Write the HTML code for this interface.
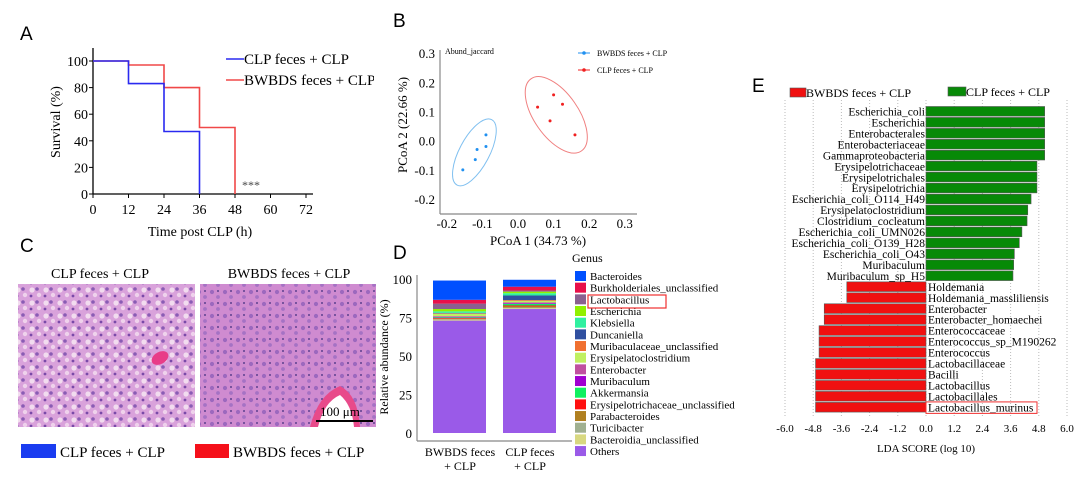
<!DOCTYPE html>
<html><head><meta charset="utf-8">
<style>
html,body{margin:0;padding:0;background:#fff;}
svg{display:block;font-family:"Liberation Serif",serif;}
.pl{font-family:"Liberation Sans",sans-serif;font-size:19px;fill:#000;}
</style></head>
<body>
<svg id="fig" width="1080" height="478" viewBox="0 0 1080 478" xmlns="http://www.w3.org/2000/svg">
<defs>
<pattern id="cellsA" width="14" height="13" patternUnits="userSpaceOnUse">
<rect width="14" height="13" fill="#d9a2db"/>
<circle cx="4" cy="4" r="2.6" fill="#f2dcef"/>
<circle cx="11" cy="9" r="2.2" fill="#efd2ec"/>
<circle cx="9" cy="3" r="1.8" fill="#8a5cb4"/>
<circle cx="3" cy="10" r="1.4" fill="#7a4aa8"/>
</pattern>
<pattern id="cellsB" width="13" height="12" patternUnits="userSpaceOnUse">
<rect width="13" height="12" fill="#cf8bd0"/>
<circle cx="4" cy="4" r="2.1" fill="#9c68be"/>
<circle cx="10" cy="9" r="1.9" fill="#a572c4"/>
<circle cx="10" cy="3" r="0.9" fill="#3b2a7a"/>
</pattern>
</defs>

<!-- Panel letters -->
<text class="pl" x="20" y="40">A</text>
<text class="pl" x="393" y="27">B</text>
<text class="pl" x="20" y="252">C</text>
<text class="pl" x="393" y="259">D</text>
<text class="pl" x="752" y="92">E</text>

<g id="pA"></g>
<g id="pB"></g>

<!-- Panel C -->
<g>
<text x="100" y="278" font-size="14" text-anchor="middle">CLP feces + CLP</text>
<text x="289" y="278" font-size="14" text-anchor="middle">BWBDS feces + CLP</text>
<rect x="18" y="284" width="177" height="143" fill="url(#cellsA)"/>
<ellipse cx="160" cy="358" rx="9" ry="6" fill="#e83c88" transform="rotate(-30 160 358)"/>
<rect x="200" y="284" width="176" height="143" fill="url(#cellsB)"/>
<path d="M310 427 Q318 395 340 386 Q358 395 360 427 Z" fill="#e84a8a"/>
<path d="M318 427 Q324 402 340 395 Q352 405 354 427 Z" fill="#fff"/>
<text x="320" y="416" font-size="13">100 μm</text>
<line x1="316" y1="421" x2="373" y2="421" stroke="#000" stroke-width="2"/>
<rect x="21" y="444" width="35" height="14" fill="#1a3cf0"/>
<text x="60" y="457" font-size="15">CLP feces + CLP</text>
<rect x="195" y="444" width="34" height="14" fill="#f5101a"/>
<text x="233" y="457" font-size="15">BWBDS feces + CLP</text>
</g>

<g id="pD"></g>
<g id="pE"></g>
</svg>

<script>
// ---- Panel A data ----
const survTicksX = [0,12,24,36,48,60,72];
const survTicksY = [0,20,40,60,80,100];
const clpTimes = [0,12,24,36];
const clpSurv = [100,83,47,0];
const bwTimes = [0,12,24,36,48];
const bwSurv = [100,97,80,50,0];

// ---- Panel B data ----
const pcoaTicks = [-0.2,-0.1,0.0,0.1,0.2,0.3];
const bwPc1 = [-0.155,-0.12,-0.115,-0.09,-0.09];
const bwPc2 = [-0.10,-0.065,-0.03,-0.02,0.02];
const clpPc1 = [0.055,0.09,0.10,0.125,0.16];
const clpPc2 = [0.115,0.068,0.157,0.125,0.02];

// ---- Panel D data ----
const genera = ["Bacteroides","Burkholderiales_unclassified","Lactobacillus","Escherichia","Klebsiella","Duncaniella","Muribaculaceae_unclassified","Erysipelatoclostridium","Enterobacter","Muribaculum","Akkermansia","Erysipelotrichaceae_unclassified","Parabacteroides","Turicibacter","Bacteroidia_unclassified","Others"];
const genusColors = ["#0050ff","#e8104a","#8a6090","#90f000","#30f0a0","#3050a0","#f07030","#c0f060","#c050a0","#a000d0","#10f060","#ff1010","#b08020","#a0b090","#d8d880","#9a5ae8"];
const bwbdsAbund = [12.5,2.5,3.5,1.5,1,0.3,0.3,1.5,0.5,0.3,0.5,0.5,0.3,0.3,0.5,73];
const clpAbund = [4.5,2.5,0.7,1,1.5,3,0.5,1,0.5,0.5,1,0.6,0.7,0.5,0.5,80.5];
const abundTicks = [0,25,50,75,100];
const groups = ["BWBDS feces|+ CLP","CLP feces|+ CLP"];

// ---- Panel E data ----
const ldaTaxa = ["Escherichia_coli","Escherichia","Enterobacterales","Enterobacteriaceae","Gammaproteobacteria","Erysipelotrichaceae","Erysipelotrichales","Erysipelotrichia","Escherichia_coli_O114_H49","Erysipelatoclostridium","Clostridium_cocleatum","Escherichia_coli_UMN026","Escherichia_coli_O139_H28","Escherichia_coli_O43","Muribaculum","Muribaculum_sp_H5","Holdemania","Holdemania_massliliensis","Enterobacter","Enterobacter_homaechei","Enterococcaceae","Enterococcus_sp_M190262","Enterococcus","Lactobacillaceae","Bacilli","Lactobacillus","Lactobacillales","Lactobacillus_murinus"];
const ldaScores = [5.05,5.05,5.05,5.05,5.05,4.72,4.72,4.72,4.47,4.33,4.3,4.08,3.97,3.76,3.73,3.7,-3.37,-3.37,-4.33,-4.33,-4.55,-4.55,-4.55,-4.7,-4.7,-4.7,-4.7,-4.7];
const ldaTicks = [-6.0,-4.8,-3.6,-2.4,-1.2,0.0,1.2,2.4,3.6,4.8,6.0];

const NS="http://www.w3.org/2000/svg";
function mk(parent,tag,attrs,txt){const e=document.createElementNS(NS,tag);for(const k in attrs)e.setAttribute(k,attrs[k]);if(txt!==undefined)e.textContent=txt;parent.appendChild(e);return e;}

// ===== Panel A =====
(function(){
const g=document.getElementById('pA');
const X=v=>93+v*(213/72), Y=v=>194-v*1.33;
let e=mk(g,'line',{x1:93,y1:48,x2:93,y2:194,stroke:'#000','stroke-width':1.3});


e=mk(g,'line',{x1:93,y1:194,x2:313,y2:194,stroke:'#000','stroke-width':1.3});


survTicksY.forEach(v=>{mk(g,'line',{x1:89,x2:93,y1:Y(v),y2:Y(v),stroke:'#000'});
 e=mk(g,'text',{x:88,y:Y(v)+5,'font-size':14,'text-anchor':'end'},String(v));
 
 });
survTicksX.forEach(v=>{mk(g,'line',{x1:X(v),x2:X(v),y1:194,y2:198,stroke:'#000'});
 e=mk(g,'text',{x:X(v),y:214,'font-size':14,'text-anchor':'middle'},String(v));
 
 });
e=mk(g,'text',{x:200,y:236,'font-size':14,'text-anchor':'middle'},'Time post CLP (h)');


e=mk(g,'text',{x:0,y:0,'font-size':14,'text-anchor':'middle',transform:'translate(60 122) rotate(-90)'},'Survival (%)');


function step(t,s,col,name){let d='M'+X(t[0])+' '+Y(s[0]);for(let i=1;i<t.length;i++){d+=' H'+X(t[i])+' V'+Y(s[i]);}
 const p=mk(g,'path',{d:d,fill:'none',stroke:col,'stroke-width':1.6});
 
 }
step(bwTimes,bwSurv,'#f04848','survival-line-bwbds');
step(clpTimes,clpSurv,'#2a2af0','survival-line-clp');
e=mk(g,'text',{x:242,y:189,'font-size':12,fill:'#444'},'***');


mk(g,'line',{x1:226,x2:244,y1:59,y2:59,stroke:'#2a2af0','stroke-width':1.6});
e=mk(g,'text',{x:244,y:64,'font-size':15},'CLP  feces + CLP');


mk(g,'line',{x1:226,x2:244,y1:80,y2:80,stroke:'#f04848','stroke-width':1.6});
e=mk(g,'text',{x:244,y:85,'font-size':15},'BWBDS feces + CLP');


mk(g,'rect',{x:374,y:40,width:10,height:60,fill:'#fff'});
})();

// ===== Panel B =====
(function(){
const g=document.getElementById('pB');
const X=v=>518+v*356, Y=v=>140.7-v*292;
let e=mk(g,'line',{x1:440,y1:50,x2:440,y2:214,stroke:'#888','stroke-width':1.2});


e=mk(g,'line',{x1:440,y1:214,x2:637,y2:214,stroke:'#888','stroke-width':1.2});


pcoaTicks.forEach(v=>{const lab=v.toFixed(1);
 e=mk(g,'text',{x:435,y:Y(v)+5,'font-size':13,'text-anchor':'end'},lab);
 
 
 e=mk(g,'text',{x:X(v),y:228,'font-size':13,'text-anchor':'middle'},lab);
 
 });
e=mk(g,'text',{x:538,y:245,'font-size':13,'text-anchor':'middle'},'PCoA 1 (34.73 %)');


e=mk(g,'text',{x:0,y:0,'font-size':13,'text-anchor':'middle',transform:'translate(407 125) rotate(-90)'},'PCoA 2 (22.66 %)');


e=mk(g,'text',{x:445,y:54,'font-size':8},'Abund_jaccard');


function ell(xs,ys,col,rx,ry,rot,name){const cx=X((Math.min(...xs)+Math.max(...xs))/2),cy=Y((Math.min(...ys)+Math.max(...ys))/2);
 const el=mk(g,'ellipse',{cx:cx,cy:cy,rx:rx,ry:ry,fill:'none',stroke:col,'stroke-width':1,transform:`rotate(${rot} ${cx} ${cy})`});
 
 }
ell(bwPc1,bwPc2,'#80c0f0',15,37,28,'ellipse-bwbds');
ell(clpPc1,clpPc2,'#f08080',22,44,-35,'ellipse-clp');
bwPc1.forEach((v,i)=>{const c=mk(g,'circle',{cx:X(v),cy:Y(bwPc2[i]),r:1.5,fill:'#2090f0'});
 
 });
clpPc1.forEach((v,i)=>{const c=mk(g,'circle',{cx:X(v),cy:Y(clpPc2[i]),r:1.5,fill:'#f02020'});
 
 });
mk(g,'line',{x1:578,x2:590,y1:53,y2:53,stroke:'#2090f0'});mk(g,'circle',{cx:584,cy:53,r:1.8,fill:'#2090f0'});
e=mk(g,'text',{x:597,y:56,'font-size':8},'BWBDS feces + CLP');


mk(g,'line',{x1:578,x2:590,y1:70,y2:70,stroke:'#f02020'});mk(g,'circle',{cx:584,cy:70,r:1.8,fill:'#f02020'});
e=mk(g,'text',{x:597,y:73,'font-size':8},'CLP  feces + CLP');


})();

// ===== Panel D =====
(function(){
const g=document.getElementById('pD');
const Y=v=>433-v*1.54;
let e=mk(g,'line',{x1:417,y1:275,x2:417,y2:441,stroke:'#888','stroke-width':1.2});


e=mk(g,'line',{x1:417,y1:441,x2:572,y2:441,stroke:'#888','stroke-width':1.2});


abundTicks.forEach(v=>{e=mk(g,'text',{x:412,y:Y(v)+5,'font-size':13,'text-anchor':'end'},String(v));
 
 });
e=mk(g,'text',{x:0,y:0,'font-size':12,'text-anchor':'middle',transform:'translate(388 357) rotate(-90)'},'Relative abundance (%)');


const barX=[433,503];
[bwbdsAbund,clpAbund].forEach((arr,b)=>{let cum=0;
 for(let i=arr.length-1;i>=0;i--){const r=mk(g,'rect',{x:barX[b],y:Y(cum+arr[i]),width:53,height:arr[i]*1.54,fill:genusColors[i]});
  
  
  cum+=arr[i];}
 const parts=groups[b].split('|');
 e=mk(g,'text',{x:barX[b]+27,y:456,'font-size':12,'text-anchor':'middle'},parts[0]);
 
 
 mk(g,'text',{x:barX[b]+27,y:470,'font-size':12,'text-anchor':'middle'},parts[1]);
});
e=mk(g,'text',{x:572,y:262,'font-size':12},'Genus');


genera.forEach((n,i)=>{const y=271+i*11.67;
 mk(g,'rect',{x:575,y:y,width:11,height:10,fill:genusColors[i]});
 e=mk(g,'text',{x:590,y:y+9,'font-size':11},n);
 
 });
e=mk(g,'rect',{x:588,y:295,width:78,height:13,fill:'none',stroke:'#f03030','stroke-width':1.2});


})();

// ===== Panel E =====
(function(){
const g=document.getElementById('pE');
const X=v=>926+v*(28.2/1.2);
const top=106.5, step=10.96;
ldaTicks.forEach(v=>{mk(g,'line',{x1:X(v),x2:X(v),y1:100,y2:418,stroke:'#bbb','stroke-dasharray':'1,2'});
 const e=mk(g,'text',{x:X(v),y:432,'font-size':11,'text-anchor':'middle'},v.toFixed(1));
 
 });
let e=mk(g,'text',{x:926,y:452,'font-size':11,'text-anchor':'middle'},'LDA SCORE (log 10)');


ldaScores.forEach((v,i)=>{const y=top+i*step;
 const x0=Math.min(X(0),X(v)), w=Math.abs(X(v)-X(0));
 const r=mk(g,'rect',{x:x0,y:y,width:w,height:step-1.3,fill:v>0?'#078a07':'#f01010',stroke:'#555','stroke-width':0.6});
 
 
 const t=mk(g,'text',{x:v>0?X(0)-1:X(0)+2,y:y+9,'font-size':11.5,'text-anchor':v>0?'end':'start'},ldaTaxa[i]);
 
 });
const ly=top+(ldaTaxa.length-1)*step;
e=mk(g,'rect',{x:X(0),y:ly-0.5,width:111,height:step+0.5,fill:'none',stroke:'#f03030','stroke-width':1});


mk(g,'rect',{x:790,y:88,width:16,height:9,fill:'#f01010',stroke:'#555','stroke-width':0.6});
e=mk(g,'text',{x:806,y:97,'font-size':12},'BWBDS feces + CLP');


mk(g,'rect',{x:948,y:87,width:18,height:9,fill:'#078a07',stroke:'#555','stroke-width':0.6});
e=mk(g,'text',{x:966,y:96,'font-size':12},'CLP feces + CLP');


})();
</script>
</body></html>
